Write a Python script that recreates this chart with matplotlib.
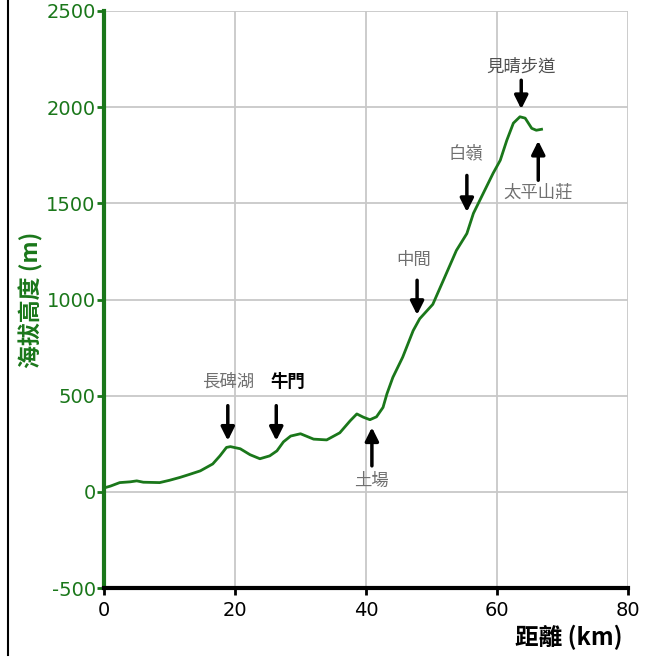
import matplotlib
matplotlib.use("Agg")
import matplotlib.pyplot as plt
from matplotlib.lines import Line2D

plt.rcParams['font.family'] = ['Noto Sans CJK TC', 'DejaVu Sans']
plt.rcParams['axes.unicode_minus'] = False

# Data: distance (km) and elevation (m)
distance_km = [0, 1, 2.4, 4, 5, 6, 8.5, 10, 11.6, 13, 14.7, 16.6, 17.7, 18.7, 19.3,
               20.8, 22.3, 23.8, 25.3, 26.4, 27.4, 28.5, 30.0, 32.0, 34.0, 36.0,
               37.6, 38.6, 39.6, 40.6, 41.6, 42.6, 43.2, 44.1, 45.6, 47.2, 48.2,
               50.2, 51.8, 53.8, 55.4, 56.4, 57.9, 59.4, 60.5, 61.5, 62.5, 63.5,
               64.3, 65.3, 66.0, 66.8]
elevation_m = [20, 30, 48, 52, 57, 50, 48, 60, 75, 90, 109, 145, 187, 231, 235,
               224, 193, 172, 187, 213, 260, 290, 302, 274, 270, 307,
               370, 405, 388, 375, 390, 439, 510, 595, 700, 838, 900,
               975, 1099, 1255, 1343, 1448, 1552, 1656, 1724, 1828, 1917, 1950,
               1943, 1890, 1880, 1885]

# Annotations: label, arrow x (km), arrow head y, arrow tail y, text y
ann_labels = ['長碑湖', '牛門', '土場', '中間', '白嶺', '見晴步道', '太平山莊']
ann_x = [18.9, 26.3, 40.9, 47.8, 55.4, 63.7, 66.3]
ann_head = [266, 266, 335, 920, 1455, 1990, 1825]
ann_tail = [448, 448, 135, 1100, 1645, 2140, 1620]
ann_text_y = [570, 570, 55, 1205, 1760, 2210, 1555]
ann_color = ['#707070', 'black', '#707070', '#707070', '#707070', '#505050', '#707070']
ann_weight = ['normal', 'bold', 'normal', 'normal', 'normal', 'normal', 'normal']
ann_text_dx = [0, 1.7, 0, -0.5, -0.2, 0, 0]

x_ticks = [0, 20, 40, 60, 80]
y_ticks = [-500, 0, 500, 1000, 1500, 2000, 2500]

green = '#1a771a'

fig = plt.figure(figsize=(6.53, 6.70), dpi=100)
ax = fig.add_axes([104/653, 1-588/670, (628-104)/653, (588-11)/670])

ax.plot(distance_km, elevation_m, color=green, lw=2.0, zorder=3)

ax.set_xlim(0, 80)
ax.set_ylim(-500, 2500)
ax.set_xticks(x_ticks)
ax.set_yticks(y_ticks)
ax.grid(True, color='#c8c8c8', lw=1.3, zorder=0)
ax.set_axisbelow(True)

for s in ['top', 'right']:
    ax.spines[s].set_visible(False)
ax.spines['left'].set_color(green)
ax.spines['left'].set_linewidth(3)
ax.spines['bottom'].set_color('black')
ax.spines['bottom'].set_linewidth(3)

ax.tick_params(axis='y', colors=green, labelcolor=green, labelsize=14, length=5, width=2, pad=1)
ax.tick_params(axis='x', colors='black', labelcolor='black', labelsize=14, length=5, width=2, pad=4)
for lbl in ax.get_yticklabels() + ax.get_xticklabels():
    lbl.set_family('DejaVu Sans')

ax.set_ylabel('海拔高度 (m)', color=green, fontsize=16.5, fontweight='bold')
ax.yaxis.set_label_coords(-0.115, 0.5)
ax.set_xlabel('距離 (km)', color='black', fontsize=17, fontweight='bold')
ax.xaxis.set_label_coords(0.99, -0.063)
ax.xaxis.label.set_horizontalalignment('right')

for lab, x, yh, yt, ty, c, w, dx in zip(ann_labels, ann_x, ann_head, ann_tail,
                                        ann_text_y, ann_color, ann_weight, ann_text_dx):
    ax.annotate('', xy=(x, yh), xytext=(x, yt),
                arrowprops=dict(arrowstyle='-|>', color='black', lw=2.5,
                                mutation_scale=20, shrinkA=0, shrinkB=0))
    ax.text(x + dx, ty, lab, ha='center', va='center', color=c,
            fontsize=12.5, fontweight=w)

fig.add_artist(Line2D([8/653, 8/653], [1-655/670, 1.0], color='black', lw=1.5,
                      transform=fig.transFigure))

fig.savefig('out.png', dpi=100)
